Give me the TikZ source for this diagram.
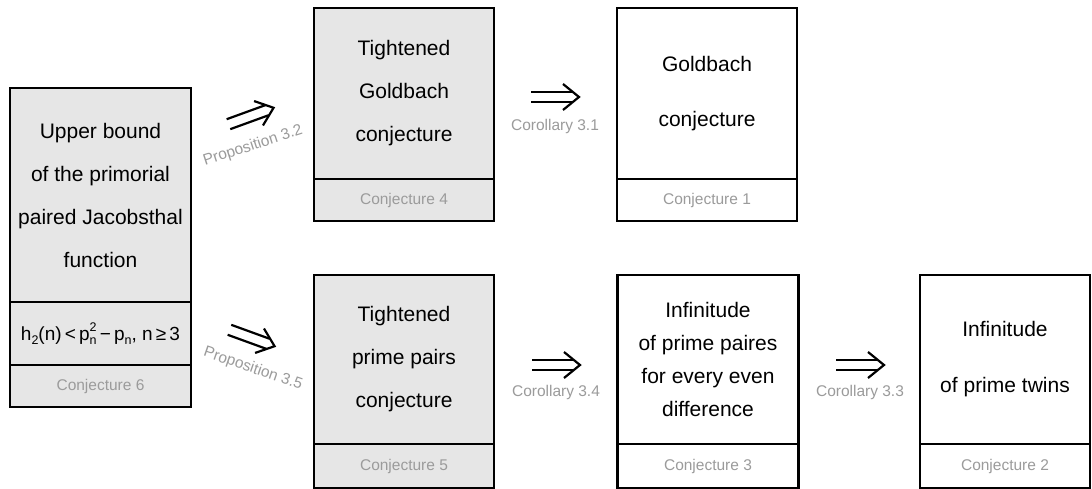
\documentclass[tikz,border=0pt]{standalone}
\usepackage{fontspec}
\setmainfont{Liberation Sans}
\definecolor{boxgray}{RGB}{230,230,230}
\definecolor{labelgray}{RGB}{155,155,155}
\newcommand{\mysmall}[1]{{\fontsize{12.5}{13}\selectfont #1}}
\begin{document}
\begin{tikzpicture}[x=1pt,y=-1pt,
  sec/.style={draw=black, line width=2.6pt, inner sep=0pt, align=center, text=black, font=\fontsize{21}{43}\selectfont},
  gf/.style={fill=boxgray},
  wf/.style={fill=white},
  conj/.style={draw=black, line width=2.6pt, inner sep=0pt, font=\fontsize{15.5}{18}\selectfont, text=labelgray},
  lbl/.style={font=\fontsize{15.5}{18}\selectfont, text=labelgray, inner sep=0pt},
  impl/.pic={
    \draw[line width=2.2pt] (-24,-5.3) -- (17,-5.3) (-24,5.3) -- (17,5.3);
    \draw[line width=2.2pt, line join=miter] (8,-13) -- (24,0) -- (8,13);
  }]
\useasboundingbox[fill=white] (0,0) rectangle (1092,489);

% left box
\node[sec, gf, minimum width=181pt, minimum height=214pt] (ub) at (100.5,195) {Upper bound\\of the primorial\\paired Jacobsthal\\function};
\node[sec, gf, minimum width=181pt, minimum height=63pt, font=\fontsize{19}{22}\selectfont] (ubf) at (100.5,333.5)
  {h\raisebox{-0.22em}{\mysmall{2}}(n)\,<\,p\rlap{\raisebox{0.45em}{\mysmall{2}}}\raisebox{-0.22em}{\mysmall{n}}\,−\,p\raisebox{-0.22em}{\mysmall{n}}, n\,≥\,3};
\node[conj, gf, minimum width=181pt, minimum height=42pt] (ubc) at (100.5,386) {Conjecture 6};

% top row
\node[sec, gf, minimum width=180pt, minimum height=171pt] (tg) at (404,93.5) {Tightened\\Goldbach\\conjecture};
\node[conj, gf, minimum width=180pt, minimum height=42pt] (tgc) at (404,200) {Conjecture 4};
\node[sec, wf, minimum width=180pt, minimum height=171pt, font=\fontsize{21}{55}\selectfont] (gb) at (707,93.5) {Goldbach\\conjecture};
\node[conj, wf, minimum width=180pt, minimum height=42pt] (gbc) at (707,200) {Conjecture 1};

% bottom row
\node[sec, gf, minimum width=180pt, minimum height=169pt] (tp) at (404,359.5) {Tightened\\prime pairs\\conjecture};
\node[conj, gf, minimum width=180pt, minimum height=44pt] (tpc) at (404,466) {Conjecture 5};
\node[sec, wf, minimum width=181pt, minimum height=169pt, font=\fontsize{21}{33}\selectfont] (ip) at (708,359.5) {Infinitude\\of prime paires\\for every even\\difference};
\node[conj, wf, minimum width=181pt, minimum height=44pt] (ipc) at (708,466) {Conjecture 3};
\node[sec, wf, minimum width=170pt, minimum height=169pt, font=\fontsize{21}{56}\selectfont] (it) at (1005,359.5) {Infinitude\\of prime twins};
\node[conj, wf, minimum width=170pt, minimum height=44pt] (itc) at (1005,466) {Conjecture 2};

% implication symbols and labels
\pic[rotate=20] at (251,116) {impl};
\node[lbl, rotate=18] (p32) at (253,146) {Proposition 3.2};
\pic[rotate=-20] at (252,338) {impl};
\node[lbl, rotate=-19] (p35) at (253,369) {Proposition 3.5};
\pic at (555,97) {impl};
\node[lbl] (c31) at (555,126) {Corollary 3.1};
\pic at (556,365) {impl};
\node[lbl] (c34) at (556,392) {Corollary 3.4};
\pic at (860,365) {impl};
\node[lbl] (c33) at (860,392) {Corollary 3.3};
\end{tikzpicture}
\end{document}
